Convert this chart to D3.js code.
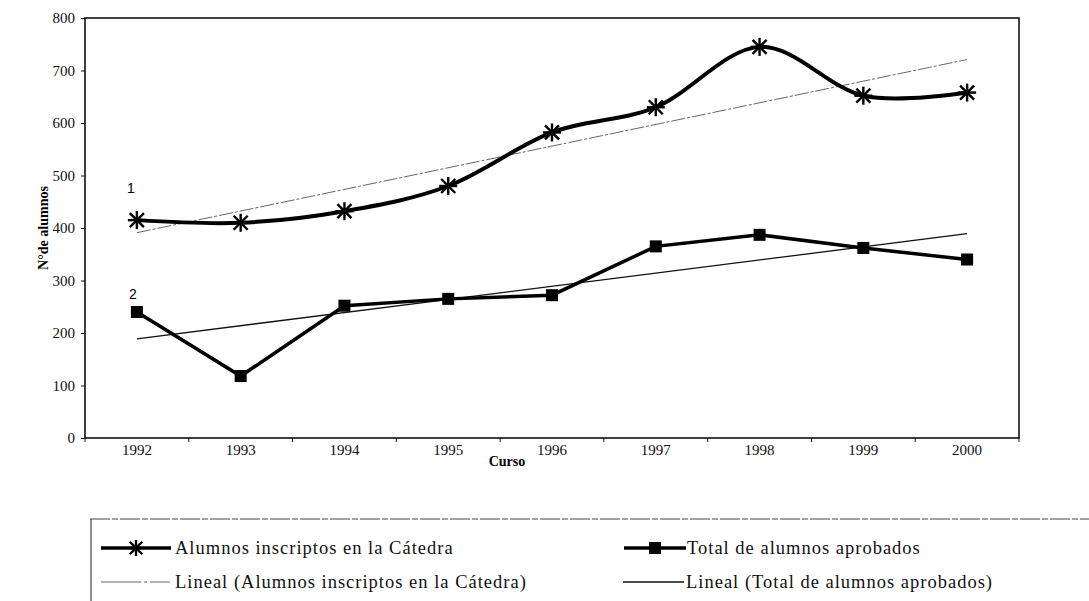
<!DOCTYPE html>
<html>
<head>
<meta charset="utf-8">
<script src="https://cdn.jsdelivr.net/npm/d3@7"></script>
<style>
  body { margin: 0; background: #fff; }
  svg { display: block; }
</style>
</head>
<body>
<div id="chart"></div>
<script>
const years = ["1992", "1993", "1994", "1995", "1996", "1997", "1998", "1999", "2000"];
const inscriptos = [415, 410, 432, 480, 582, 630, 745, 652, 658];
const aprobados = [240, 118, 252, 265, 272, 365, 387, 362, 340];
const yTicks = [0, 100, 200, 300, 400, 500, 600, 700, 800];
const legendNames = [
  "Alumnos inscriptos en la Cátedra",
  "Total de alumnos aprobados",
  "Lineal (Alumnos inscriptos en la Cátedra)",
  "Lineal (Total de alumnos aprobados)"
];

const width = 1089, height = 601;
const plotL = 85, plotR = 1019, plotT = 18, plotB = 438;
const serif = "'Liberation Serif', 'Times New Roman', serif";

const svg = d3.select("#chart").append("svg")
  .attr("width", width).attr("height", height);

const x = d3.scaleBand().domain(years).range([plotL, plotR]);
const y = d3.scaleLinear().domain([0, 800]).range([plotB, plotT]);
const cx = d => x(d) + x.bandwidth() / 2;

// linear trend, like Excel's "Lineal"
function trend(vals) {
  const n = vals.length;
  const mx = d3.mean(vals, (v, i) => i), my = d3.mean(vals);
  const b = d3.sum(vals, (v, i) => (i - mx) * (v - my)) / d3.sum(vals, (v, i) => (i - mx) ** 2);
  const a = my - b * mx;
  return [[0, a], [n - 1, a + b * (n - 1)]];
}

// frame
svg.append("rect")
  .attr("x", plotL).attr("y", plotT)
  .attr("width", plotR - plotL).attr("height", plotB - plotT)
  .attr("fill", "none").attr("stroke", "#111").attr("stroke-width", 1.6);

// y axis
const yAxis = svg.append("g")
  .attr("transform", `translate(${plotL},0)`)
  .call(d3.axisLeft(y).tickValues(yTicks).tickSize(4).tickPadding(6).tickFormat(d3.format("d")));
yAxis.select(".domain").remove();
yAxis.selectAll("text").attr("font-family", serif).attr("font-size", 15).attr("fill", "#111");
yAxis.selectAll("line").attr("stroke", "#111");

// x axis: ticks between categories
const xg = svg.append("g");
xg.selectAll("line")
  .data(years.concat(["end"]))
  .join("line")
  .attr("x1", (d, i) => plotL + i * x.step())
  .attr("x2", (d, i) => plotL + i * x.step())
  .attr("y1", plotB).attr("y2", plotB + 4)
  .attr("stroke", "#111");
xg.selectAll("text")
  .data(years)
  .join("text")
  .attr("x", d => cx(d))
  .attr("y", plotB + 17)
  .attr("text-anchor", "middle")
  .attr("font-family", serif).attr("font-size", 15).attr("fill", "#111")
  .text(d => d);

// axis titles
svg.append("text")
  .attr("transform", `translate(48,${(plotT + plotB) / 2}) rotate(-90)`)
  .attr("text-anchor", "middle")
  .attr("font-family", serif).attr("font-size", 14).attr("font-weight", "bold")
  .text("N°de alumnos");
svg.append("text")
  .attr("x", 507).attr("y", 466)
  .attr("text-anchor", "middle")
  .attr("font-family", serif).attr("font-size", 14).attr("font-weight", "bold")
  .text("Curso");

// trend lines
const tLine = d3.line().x(d => cx(years[d[0]])).y(d => y(d[1]));
svg.append("path").attr("d", tLine(trend(inscriptos)))
  .attr("fill", "none").attr("stroke", "#555").attr("stroke-width", 0.9)
  .attr("stroke-dasharray", "14,2,3,2");
svg.append("path").attr("d", tLine(trend(aprobados)))
  .attr("fill", "none").attr("stroke", "#111").attr("stroke-width", 1.3);

// series lines
const smooth = d3.line().x((d, i) => cx(years[i])).y(d => y(d)).curve(d3.curveCatmullRom.alpha(0));
const straight = d3.line().x((d, i) => cx(years[i])).y(d => y(d));
svg.append("path").attr("d", smooth(inscriptos))
  .attr("fill", "none").attr("stroke", "#000").attr("stroke-width", 4);
svg.append("path").attr("d", straight(aprobados))
  .attr("fill", "none").attr("stroke", "#000").attr("stroke-width", 3.5);

// markers
function asterisk(g, px, py, r) {
  const a = g.append("g").attr("transform", `translate(${px},${py})`)
    .attr("stroke", "#000").attr("stroke-width", 2.4);
  a.append("line").attr("x1", -r).attr("x2", r).attr("y1", 0).attr("y2", 0);
  a.append("line").attr("x1", 0).attr("x2", 0).attr("y1", -r).attr("y2", r);
  a.append("line").attr("x1", -r * 0.78).attr("x2", r * 0.78).attr("y1", -r * 0.78).attr("y2", r * 0.78);
  a.append("line").attr("x1", -r * 0.78).attr("x2", r * 0.78).attr("y1", r * 0.78).attr("y2", -r * 0.78);
}
inscriptos.forEach((v, i) => asterisk(svg, cx(years[i]), y(v), 9));
svg.append("g").selectAll("rect")
  .data(aprobados)
  .join("rect")
  .attr("x", (d, i) => cx(years[i]) - 6)
  .attr("y", d => y(d) - 6)
  .attr("width", 12).attr("height", 12)
  .attr("fill", "#000");

// series numbers
svg.append("text").attr("x", 131).attr("y", 193).attr("text-anchor", "middle")
  .attr("font-family", "'Liberation Sans', Arial, sans-serif").attr("font-size", 14).text("1");
svg.append("text").attr("x", 133).attr("y", y(aprobados[0]) - 13).attr("text-anchor", "middle")
  .attr("font-family", "'Liberation Sans', Arial, sans-serif").attr("font-size", 14).text("2");

// legend
const lg = svg.append("g");
lg.append("line").attr("x1", 90).attr("x2", width).attr("y1", 519).attr("y2", 519)
  .attr("stroke", "#444").attr("stroke-width", 1.2).attr("stroke-dasharray", "20,2,6,2");
lg.append("line").attr("x1", 91).attr("x2", 91).attr("y1", 519).attr("y2", height)
  .attr("stroke", "#444").attr("stroke-width", 1.2);

const items = [
  { x0: 101, x1: 171, y: 548, tx: 175, type: "ast" },
  { x0: 624, x1: 686, y: 548, tx: 687, type: "sq" },
  { x0: 101, x1: 170, y: 582, tx: 175, type: "t1" },
  { x0: 623, x1: 684, y: 582, tx: 686, type: "t2" }
];
items.forEach((it, i) => {
  const ln = lg.append("line").attr("x1", it.x0).attr("x2", it.x1).attr("y1", it.y).attr("y2", it.y);
  if (it.type === "ast" || it.type === "sq") {
    ln.attr("stroke", "#000").attr("stroke-width", 3.5);
  } else if (it.type === "t1") {
    ln.attr("stroke", "#555").attr("stroke-width", 0.9).attr("stroke-dasharray", "40,3,3,3");
  } else {
    ln.attr("stroke", "#111").attr("stroke-width", 1.3);
  }
  const mid = (it.x0 + it.x1) / 2;
  if (it.type === "ast") asterisk(lg, mid, it.y, 8);
  if (it.type === "sq") lg.append("rect").attr("x", mid - 6).attr("y", it.y - 6)
    .attr("width", 12).attr("height", 12).attr("fill", "#000");
  lg.append("text").attr("x", it.tx).attr("y", it.y + 6)
    .attr("font-family", serif).attr("font-size", 18.5).attr("letter-spacing", 1)
    .attr("fill", "#111")
    .text(legendNames[i]);
});
</script>
</body>
</html>
